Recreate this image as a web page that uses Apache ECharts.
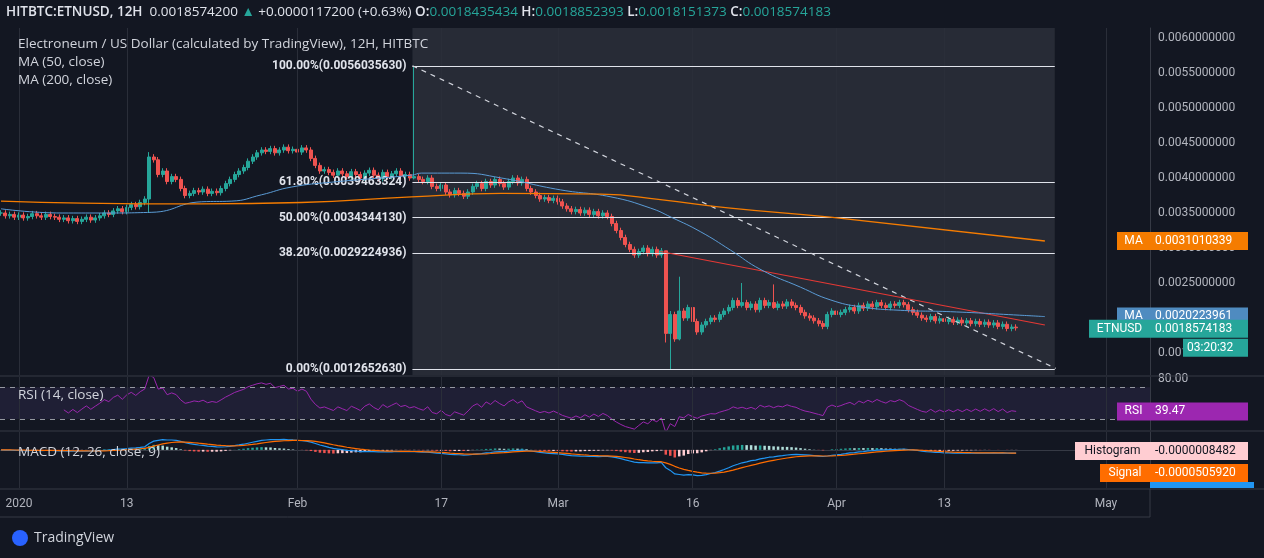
<!DOCTYPE html>
<html><head><meta charset="utf-8">
<script src="https://cdn.jsdelivr.net/npm/echarts@6/dist/echarts.min.js"></script>
<style>html,body{margin:0;background:#131722;}#c{width:1264px;height:558px;}</style>
</head><body><div id="c"></div>
<script>
// ---- DATA (prices in units of 1e-5 USD) ----
const closes = [350,346,348,344,347,343,345,349,346,344,348,345,
344,341,343,339,342,338,341,344,340,343,346,
350,348,353,356,352,358,362,359,365,370,
430,426,
405,410,395,402,398,385,
375,378,382,380,384,378,381,379,
385,392,398,405,410,415,424,430,436,440,
438,442,436,440,444,439,441,437,443,440,
428,418,410,412,
408,404,410,406,402,409,405,400,407,411,404,399,408,402,406,410,403,405,400,
402,
398,395,400,388,385,390,
380,376,382,378,374,380,
388,392,385,395,390,398,392,387,395,400,393,398,385,380,
375,370,372,368,371,366,
360,356,352,355,350,354,348,352,346,350,345,
335,325,315,305,298,290,
295,300,292,298,290,296,
178,
205,170,210,200,215,195,180,190,
195,200,198,205,210,215,225,
218,222,215,220,212,225,218,
222,215,220,217,223,218,215,
208,203,200,196,192,188,205,
210,205,208,212,215,210,
218,214,220,216,222,218,215,220,218,222,219,
212,208,204,200,198,202,
196,199,195,198,194,197,193,196,192,195,191,194,190,193,188,191,185,187,186];
const wickOverrides = {33:[437,350],92:[560,398],148:[296,165],149:[210,127],151:[259,168],165:[250,215],172:[248,213],186:[232,205]};
// MA lines: [day offset from 2019-12-30, value]
const ma50 = [[0,356],[6.8,350],[11.2,350],[16.8,351],[22.3,366],[25.7,367],[29,376],[32.3,387],[36.8,394],[45.7,404],[46.8,407],[51.2,407],[55.7,400],[62.3,383],[67.9,373],[72.3,357],[74.6,344],[77.9,323],[81.2,297],[84.6,269],[89,244],[92.3,226],[95.7,216],[100.1,211],[105.7,209],[113.4,204],[116.2,202]];
const ma200 = [[0,367],[9,364],[22.3,363],[33.4,365],[45.7,373],[55.7,378],[66.8,377],[73.4,369],[81.2,357],[92.3,344],[116.2,310]];
const fibLevels = [[1,0.0056035630],[0.618,0.0039463324],[0.5,0.0034344130],[0.382,0.0029224936],[0,0.0012652630]];
const priceTicks = [0.0015,0.0020,0.0025,0.0030,0.0035,0.0040,0.0045,0.0050,0.0055,0.0060];
const xTicks = [['2020',2020,0,1],['13',2020,0,13],['Feb',2020,1,1],['17',2020,1,17],['Mar',2020,2,1],['16',2020,2,16],['Apr',2020,3,1],['13',2020,3,13],['May',2020,4,1]];

const U=1e-5, DAY=86400000, H12=DAY/2;
const t0 = Date.UTC(2019,11,30);
const times = closes.map((c,i)=>t0+i*H12);
const candles = closes.map((c,i)=>{
  const o = i===0?c:closes[i-1];
  let hi=Math.max(o,c)+4, lo=Math.min(o,c)-4;
  if(wickOverrides[i]){hi=wickOverrides[i][0];lo=wickOverrides[i][1];}
  return [times[i],o*U,c*U,lo*U,hi*U];
});
const toT = d=>t0+d*DAY;
const ma50d = ma50.map(p=>[toT(p[0]),p[1]*U]);
const ma200d = ma200.map(p=>[toT(p[0]),p[1]*U]);
// RSI 14 (Wilder)
const rsi=[];let ag=0,al=0;
for(let i=1;i<closes.length;i++){const d=closes[i]-closes[i-1];const g=Math.max(d,0),l=Math.max(-d,0);
 if(i<=14){ag+=g/14;al+=l/14;if(i===14)rsi.push([times[i],100-100/(1+ag/(al||1e-9))]);}
 else{ag=(ag*13+g)/14;al=(al*13+l)/14;rsi.push([times[i],100-100/(1+ag/(al||1e-9))]);}}
// MACD 12,26,9
function ema(arr,n){const k=2/(n+1);const out=[];arr.forEach((v,i)=>out.push(i===0?v:v*k+out[i-1]*(1-k)));return out;}
const cU=closes.map(c=>c*U);const e12=ema(cU,12),e26=ema(cU,26);
const macd=e12.map((v,i)=>v-e26[i]);const sig=ema(macd,9);
const hist=macd.map((v,i)=>v-sig[i]);
const xTickVals = xTicks.map(a=>Date.UTC(a[1],a[2],a[3]));
const xLabelMap={};xTicks.forEach((a,i)=>xLabelMap[xTickVals[i]]=a[0]);

const xMin=t0-0.11*DAY, xMax=t0+127.9*DAY;
const fibStart=toT(45.8), fibEnd=toT(117.3);
const grid=[{left:0,right:114,top:28,height:347},{left:0,right:114,top:377,height:53},{left:0,right:114,top:432,height:56}];
const baseX = i=>({type:'value',gridIndex:i,min:xMin,max:xMax,axisLine:{show:i===2,lineStyle:{color:'#363a45'}},axisTick:{show:false},splitLine:{show:false},
  axisLabel:{show:i===2,customValues:xTickVals,formatter:v=>xLabelMap[v]||'',color:'#b2b5be',fontSize:12,fontFamily:'Roboto',margin:10}});
const vLines = xTickVals.map(v=>({xAxis:v}));
const gridLineStyle={color:'#2a2e39',width:1,type:'solid'};
const chart=echarts.init(document.getElementById('c'));
chart.setOption({
  animation:false,backgroundColor:'#131722',
  textStyle:{fontFamily:'Roboto'},
  grid,
  xAxis:[baseX(0),baseX(1),baseX(2)],
  yAxis:[
   {type:'value',gridIndex:0,position:'right',min:0.0011857,max:0.0061429,splitLine:{show:false},
    axisLine:{show:true,lineStyle:{color:'#363a45'}},axisTick:{show:false},
    axisLabel:{customValues:priceTicks,formatter:v=>v.toFixed(10),color:'#b2b5be',fontSize:12,margin:8}},
   {type:'value',gridIndex:1,position:'right',min:16,max:83,splitLine:{show:false},axisLine:{show:true,lineStyle:{color:'#363a45'}},axisTick:{show:false},
    axisLabel:{customValues:[80],formatter:v=>v.toFixed(2),color:'#b2b5be',fontSize:12,margin:8}},
   {type:'value',gridIndex:2,position:'right',min:-0.00062,max:0.00029,splitLine:{show:false},axisLine:{show:true,lineStyle:{color:'#363a45'}},axisTick:{show:false},axisLabel:{show:false}}
  ],
  series:[
   {type:'line',xAxisIndex:0,yAxisIndex:0,data:[],silent:true,
    markArea:{silent:true,itemStyle:{color:'rgba(120,123,134,0.2)'},data:[[{xAxis:fibStart,yAxis:0.0061429},{xAxis:fibEnd,yAxis:0.0011857}]]},
    markLine:{silent:true,symbol:'none',label:{show:false},lineStyle:gridLineStyle,
     data:vLines.concat(priceTicks.map(v=>({yAxis:v})))}},
   {type:'candlestick',xAxisIndex:0,yAxisIndex:0,data:candles,
    encode:{x:0,y:[1,2,3,4]},barWidth:3.5,
    itemStyle:{color:'#26a69a',color0:'#ef5350',borderColor:'#26a69a',borderColor0:'#ef5350',borderWidth:1},
    markLine:{silent:true,symbol:'none',label:{show:false},lineStyle:{color:'#26a69a',type:'dotted',width:1},data:[{yAxis:closes[closes.length-1]*U}]}},
   {type:'line',name:'MA50',data:ma50d,smooth:true,showSymbol:false,lineStyle:{color:'#5b9cd6',width:1},z:5},
   {type:'line',name:'MA200',data:ma200d,smooth:true,showSymbol:false,lineStyle:{color:'#f57c00',width:1.3},z:5},
   {type:'line',data:[],silent:true,z:6,
    markLine:{silent:true,symbol:'none',
     data:fibLevels.map(f=>[{coord:[fibStart,f[1]],label:{show:true,position:'start',distance:6,color:'#e0e3eb',fontSize:12,fontWeight:'bold',
        formatter:(f[0]*100).toFixed(2)+'%('+f[1].toFixed(10)+')'}},{coord:[fibEnd,f[1]]}]).concat([
       [{coord:[fibStart,0.0056035630],lineStyle:{color:'#d1d4dc',type:[5,5],width:1.2},label:{show:false}},{coord:[toT(117.4),0.00128]}],
       [{coord:[toT(73.4),0.00295],lineStyle:{color:'#e53935',type:'solid',width:1.2},label:{show:false}},{coord:[toT(116.2),0.00190]}]
     ]),
     lineStyle:{color:'#e0e3eb',type:'solid',width:1.2}}},
   {type:'line',xAxisIndex:1,yAxisIndex:1,data:rsi,showSymbol:false,lineStyle:{color:'#9c27b0',width:1},
    markArea:{silent:true,itemStyle:{color:'rgba(126,87,194,0.12)'},data:[[{yAxis:30},{yAxis:70}]]},
    markLine:{silent:true,symbol:'none',label:{show:false},lineStyle:{color:'#9598a1',type:[5,5],width:1},data:[{yAxis:70},{yAxis:30}]}},
   {type:'line',xAxisIndex:1,yAxisIndex:1,data:[],markLine:{silent:true,symbol:'none',label:{show:false},lineStyle:gridLineStyle,data:vLines}},
   {type:'bar',xAxisIndex:2,yAxisIndex:2,barWidth:2.5,data:hist.map((v,i)=>({value:[times[i],v],itemStyle:{color:v>=0?(i>0&&v>hist[i-1]?'#26a69a':'#b2dfdb'):(i>0&&v<hist[i-1]?'#ef5350':'#ffcdd2')}}))},
   {type:'line',xAxisIndex:2,yAxisIndex:2,data:macd.map((v,i)=>[times[i],v]),showSymbol:false,lineStyle:{color:'#2196f3',width:1.2},
    markLine:{silent:true,symbol:'none',label:{show:false},lineStyle:gridLineStyle,data:vLines}},
   {type:'line',xAxisIndex:2,yAxisIndex:2,data:sig.map((v,i)=>[times[i],v]),showSymbol:false,lineStyle:{color:'#ff6d00',width:1.2}}
  ]
});
// overlay texts / labels
const py = v=>chart.convertToPixel({xAxisIndex:0,yAxisIndex:0},[t0,v])[1];
const ry = v=>chart.convertToPixel({xAxisIndex:1,yAxisIndex:1},[t0,v])[1];
const my = v=>chart.convertToPixel({xAxisIndex:2,yAxisIndex:2},[t0,v])[1];
function tag(y,tagTxt,valTxt,bg,fg,tagX){
  const els=[];
  if(tagTxt) els.push({type:'rect',shape:{x:tagX,y:y-9,width:1150-tagX,height:18},style:{fill:bg}},
    {type:'text',x:(tagX+1150)/2,y:y,style:{text:tagTxt,fill:fg,font:'12px Roboto',align:'center',verticalAlign:'middle'}});
  els.push({type:'rect',shape:{x:1150,y:y-9,width:98,height:18},style:{fill:bg}},
   {type:'text',x:1155,y:y,style:{text:valTxt,fill:fg,font:'12px Roboto',verticalAlign:'middle'}});
  return els;
}
const lastC=closes[closes.length-1]*U;
const F='13.5px "Open Sans"';
const g=[
 {type:'rect',shape:{x:0,y:517,width:1264,height:41},style:{fill:'#131722'}},
 {type:'rect',shape:{x:0,y:0,width:1264,height:27},style:{fill:'#131722'}},
 {type:'text',x:6,y:12,style:{text:'{b|HITBTC:ETNUSD, 12H}{w|  0.0018574200 }{g|▲}{w| +0.0000117200 (+0.63%) }{b|O:}{g|0.0018435434}{b| H:}{g|0.0018852393}{b| L:}{g|0.0018151373}{b| C:}{g|0.0018574183}',
   verticalAlign:'middle',rich:{b:{fill:'#e0e3eb',font:'600 '+F},w:{fill:'#e0e3eb',font:F},g:{fill:'#26a69a',font:F}}}},
 {type:'text',x:18,y:44,style:{text:'Electroneum / US Dollar (calculated by TradingView), 12H, HITBTC',fill:'#d1d4dc',font:F,verticalAlign:'middle'}},
 {type:'text',x:18,y:62,style:{text:'MA (50, close)',fill:'#d1d4dc',font:F,verticalAlign:'middle'}},
 {type:'text',x:18,y:80,style:{text:'MA (200, close)',fill:'#d1d4dc',font:F,verticalAlign:'middle'}},
 {type:'text',x:18,y:395,style:{text:'RSI (14, close)',fill:'#d1d4dc',font:F,verticalAlign:'middle'}},
 {type:'text',x:18,y:452,style:{text:'MACD (12, 26, close, 9)',fill:'#d1d4dc',font:F,verticalAlign:'middle'}},
 {type:'line',shape:{x1:0,y1:376,x2:1264,y2:376},style:{stroke:'#363a45'}},
 {type:'line',shape:{x1:0,y1:431,x2:1264,y2:431},style:{stroke:'#363a45'}},
 {type:'line',shape:{x1:0,y1:489,x2:1264,y2:489},style:{stroke:'#363a45'}},
 {type:'line',shape:{x1:0,y1:517,x2:1150,y2:517},style:{stroke:'#363a45'}},
 {type:'line',shape:{x1:1150,y1:489,x2:1150,y2:517},style:{stroke:'#363a45'}},
 {type:'circle',shape:{cx:20,cy:538,r:8},style:{fill:'#2962ff'}},
 {type:'text',x:34,y:538,style:{text:'TradingView',fill:'#d1d4dc',font:'14px "Open Sans"',verticalAlign:'middle'}}
].concat(
 tag(py(0.0031010339),'MA','0.0031010339','#f57c00','#ffffff',1117),
 tag(py(0.0020223961),'MA','0.0020223961','#4f8bc0','#ffffff',1117),
 tag(py(lastC)+1,'ETNUSD','0.0018574183','#26a69a','#ffffff',1089),
 [{type:'rect',shape:{x:1183,y:py(lastC)+11,width:65,height:18},style:{fill:'#26a69a'}},
  {type:'text',x:1187,y:py(lastC)+20,style:{text:'03:20:32',fill:'#ffffff',font:'12px Roboto',verticalAlign:'middle'}}],
 tag(ry(39.47),'RSI','39.47','#9c27b0','#ffffff',1117),
 tag(my(hist[hist.length-1])+1,'Histogram','-0.0000008482','#ffcdd2','#131722',1075),
 tag(my(sig[sig.length-1])+20,'Signal','-0.0000505920','#ff6d00','#ffffff',1100),
 [{type:'rect',shape:{x:1150,y:482,width:104,height:6},style:{fill:'#2196f3'}}]
).map(e=>Object.assign({z:100},e));
chart.setOption({graphic:g});
</script></body></html>
